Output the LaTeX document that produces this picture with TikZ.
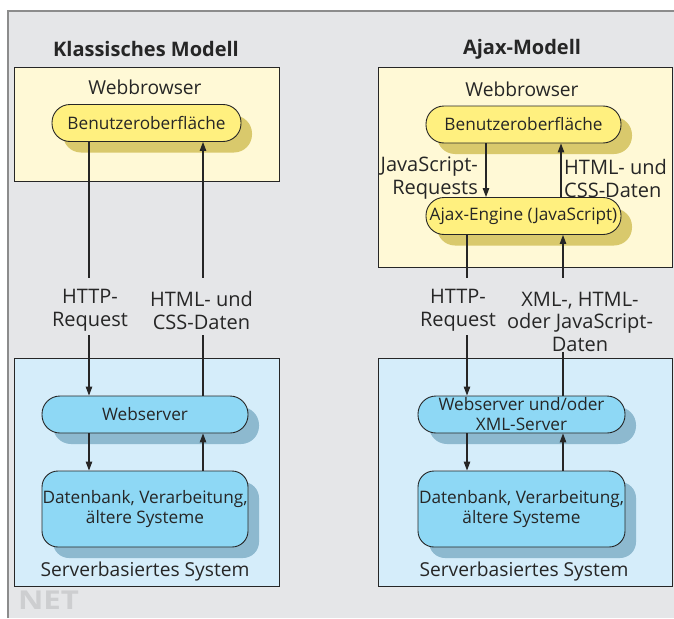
\documentclass[tikz,border=0pt]{standalone}
\usepackage{fontspec}
\setmainfont{Open Sans}
\usetikzlibrary{shadows,arrows.meta}
\definecolor{bg}{HTML}{E5E6E8}
\definecolor{framegray}{HTML}{8C8C8C}
\definecolor{ylight}{HTML}{FFF9D6}
\definecolor{ypill}{HTML}{FFF07F}
\definecolor{yshadow}{HTML}{D9C96C}
\definecolor{blight}{HTML}{D5EDFA}
\definecolor{bpill}{HTML}{8ED8F5}
\definecolor{bshadow}{HTML}{8DB9CF}
\definecolor{linec}{HTML}{262626}
\definecolor{netgray}{HTML}{CDCED0}
\tikzset{
  pill/.style={draw=linec, line width=0.9pt, rounded corners=18pt, minimum height=37pt,
    inner sep=0pt, align=center, text=linec, font=\fontsize{17.2}{20}\selectfont},
  ypill/.style={pill, fill=ypill, general shadow={fill=yshadow, shadow xshift=11pt, shadow yshift=-11pt}},
  bpill/.style={pill, fill=bpill, general shadow={fill=bshadow, shadow xshift=11pt, shadow yshift=-11pt}},
  dbbox/.style={bpill, rounded corners=16pt, minimum height=76pt, minimum width=206pt},
  lab/.style={inner sep=0pt, minimum height=57pt, align=center, text=linec, font=\fontsize{20}{23}\selectfont},
  hdr/.style={inner sep=0pt, text=linec, font=\fontsize{19.2}{22}\selectfont},
  ttl/.style={inner sep=0pt, text=linec, font=\fontsize{20}{22}\selectfont\bfseries},
  ln/.style={draw=linec, line width=1.1pt},
  arr/.style={ln, -{Triangle[length=9pt,width=6.5pt]}},
  bigbox/.style={draw=linec, line width=0.9pt}
}
\begin{document}
\begin{tikzpicture}[x=1pt,y=-1pt]
\useasboundingbox (0,0) rectangle (674,618);
\fill[white] (0,0) rectangle (674,618);
\fill[bg] (8,11) rectangle (674,618);
\draw[framegray, line width=1.6pt] (8,618) -- (8,11) -- (674,11);

% big boxes
\draw[bigbox, fill=ylight] (14,67) rectangle (279,181);
\draw[bigbox, fill=ylight] (378,67) rectangle (672.5,267);
\draw[bigbox, fill=blight] (14,358) rectangle (279,586);
\draw[bigbox, fill=blight] (378,358) rectangle (672.5,586);

% titles
\node[ttl] (t1) at (146,49) {Klassisches Modell};
\node[ttl] (t2) at (522,49) {Ajax-Modell};
\node[hdr] (w1) at (145,87) {Webbrowser};
\node[hdr] (w2) at (522,89) {Webbrowser};
\node[hdr] (s1) at (145,572) {Serverbasiertes System};
\node[hdr] (s2) at (524,572) {Serverbasiertes System};

% left model
\node[ypill, minimum width=189pt] (bo1) at (146.5,123) {Benutzeroberfläche};
\node[bpill, minimum width=206pt] (ws1) at (145,414.5) {Webserver};
\node[dbbox] (db1) at (145,509) {Datenbank, Verarbeitung,\\ältere Systeme};
\node[lab] (l1) at (90,310.5) {HTTP-\\Request};
\node[lab] (l2) at (201.5,310.5) {HTML- und\\CSS-Daten};
\coordinate (c1) at (89,0);
\coordinate (c2) at (203,0);

% right model
\node[ypill, minimum width=195pt] (bo2) at (523.5,124.5) {Benutzeroberfläche};
\node[ypill, minimum width=195pt] (ae) at (523.5,216) {Ajax-Engine (JavaScript)};
\node[bpill, minimum width=207pt, font=\fontsize{17.2}{20}\selectfont] (ws2) at (521.5,414.5) {Webserver und/oder\\XML-Server};
\node[dbbox, minimum width=207pt] (db2) at (521.5,509) {Datenbank, Verarbeitung,\\ältere Systeme};
\node[lab] (l3) at (458,310.5) {HTTP-\\Request};
\node[lab, minimum height=74pt, font=\fontsize{20}{22.5}\selectfont] (l4) at (580,321.5) {XML-, HTML-\\oder JavaScript-\\Daten};
\node[lab, minimum height=0pt, align=right, anchor=east] (l5) at (478,178) {JavaScript-\\Requests};
\node[lab, minimum height=0pt, align=left, anchor=west] (l6) at (564,178) {HTML- und\\CSS-Daten};
\coordinate (c3) at (467,0);
\coordinate (c4) at (563,0);
\coordinate (cxa) at (486,0);
\coordinate (cxb) at (561,0);

\node[text=netgray, inner sep=0pt, font=\fontsize{26}{26}\selectfont\bfseries] (net) at (48.5,600.5) {\scalebox{1.2}[1]{NET}};

% left connectors
\draw[ln] (bo1.south -| c1) -- ([yshift=4pt]l1.north -| c1);
\draw[arr] ([yshift=4pt]l1.south -| c1) -- (ws1.north -| c1);
\draw[arr] ([yshift=4pt]l2.north -| c2) -- (bo1.south -| c2);
\draw[ln] (ws1.north -| c2) -- ([yshift=4pt]l2.south -| c2);
\draw[arr] (ws1.south -| c1) -- (db1.north -| c1);
\draw[arr] (db1.north -| c2) -- (ws1.south -| c2);

% right connectors
\draw[arr] (bo2.south -| cxa) -- (ae.north -| cxa);
\draw[arr] (ae.north -| cxb) -- (bo2.south -| cxb);
\draw[ln] (ae.south -| c3) -- ([yshift=4pt]l3.north -| c3);
\draw[arr] ([yshift=4pt]l3.south -| c3) -- (ws2.north -| c3);
\draw[arr] ([yshift=6.5pt]l4.north -| c4) -- (ae.south -| c4);
\draw[ln] (ws2.north -| c4) -- ([yshift=6.5pt]l4.south -| c4);
\draw[arr] (ws2.south -| c3) -- (db2.north -| c3);
\draw[arr] (db2.north -| c4) -- (ws2.south -| c4);
\end{tikzpicture}
\end{document}
